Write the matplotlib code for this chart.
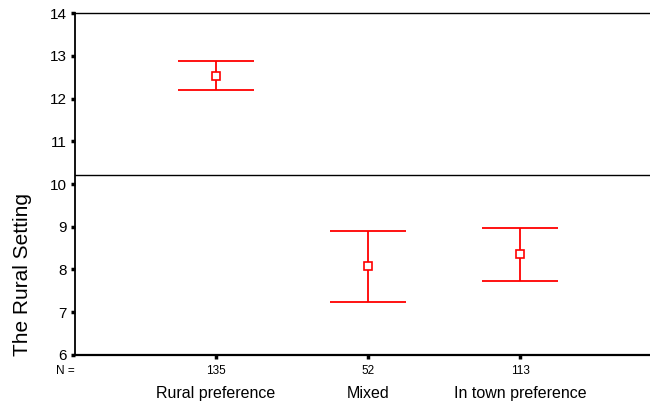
import matplotlib
matplotlib.use("Agg")
import matplotlib.pyplot as plt

# Group summaries
categories = ["Rural preference", "Mixed", "In town preference"]
n_counts = [135, 52, 113]
means = [12.53, 8.08, 8.36]
upper = [12.87, 8.89, 8.96]
lower = [12.19, 7.25, 7.74]
ref_value = 10.2
y_ticks = [6, 7, 8, 9, 10, 11, 12, 13, 14]

plt.rcParams["font.family"] = ["Liberation Sans", "DejaVu Sans"]

fig = plt.figure(figsize=(6.5, 4.08), dpi=100)
ax = fig.add_axes([0.1154, 0.130, 0.8846, 0.838])

x = list(range(1, len(categories) + 1))
red = "#ff0000"
for xi, m, lo, hi in zip(x, means, lower, upper):
    ax.vlines(xi, lo, hi, color=red, lw=1.3)
    ax.hlines([lo, hi], xi - 0.25, xi + 0.25, color=red, lw=1.3)
ax.plot(x, means, ls="none", marker="s", ms=6.3, mfc="white", mec=red, mew=1.2, zorder=3)

ax.axhline(ref_value, color="black", lw=1.0)

ax.set_ylim(6, 14)
ax.set_xlim(1 - 141 / 152, 3 + 130 / 152)
ax.set_yticks(y_ticks)
ax.set_yticklabels([str(t) for t in y_ticks], fontsize=11)
ax.set_xticks(x)
ax.set_xticklabels([str(n) for n in n_counts], fontsize=8.5)
ax.tick_params(axis="y", length=3, width=2.5, pad=3, direction="out")
ax.tick_params(axis="x", length=3, width=2.5, pad=4, direction="out")

ax.spines["left"].set_linewidth(1.3)
ax.spines["bottom"].set_linewidth(1.6)
ax.spines["top"].set_linewidth(1.0)
ax.spines["right"].set_visible(False)

# Axis title sits low beside the lower half of the scale
fig.text(23 / 650, 1 - 274 / 408, "The Rural Setting", rotation=90,
         fontsize=15, ha="center", va="center")

# N label and category names below the axis
ax.text(0.0, -0.048, "N =", transform=ax.transAxes, fontsize=8.5,
        ha="right", va="center")
for xi, c in zip(x, categories):
    ax.annotate(c, xy=(xi, 0), xycoords=("data", "axes fraction"),
                xytext=(0, -28), textcoords="offset points",
                ha="center", va="center", fontsize=11.5)

fig.savefig("out.png", dpi=100)
